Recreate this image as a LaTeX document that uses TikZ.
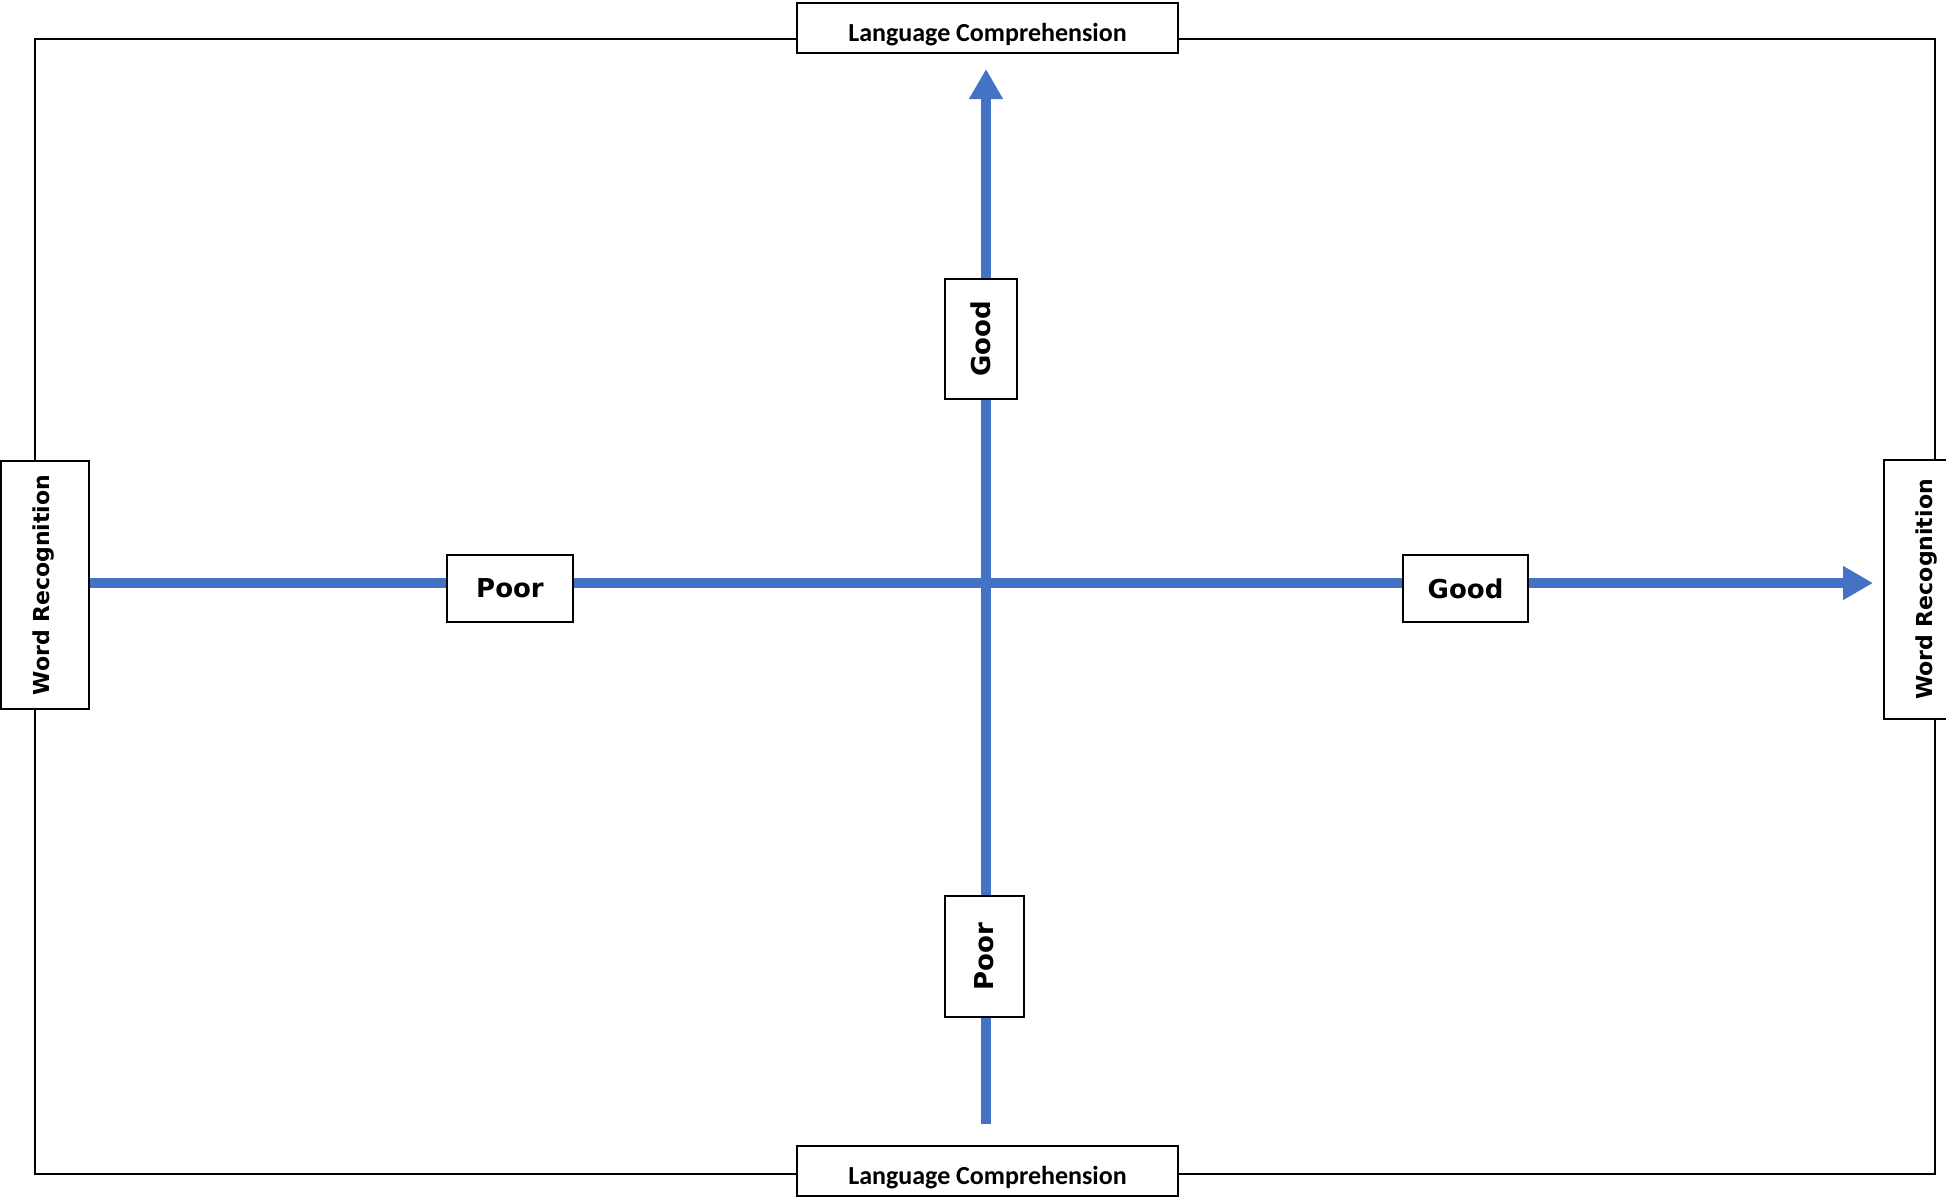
\documentclass[tikz,border=0pt]{standalone}
\usepackage{fontspec}
\setmainfont{DejaVu Sans}
\newfontfamily\lcfont{Carlito}
\usetikzlibrary{arrows.meta}
\definecolor{axisblue}{HTML}{4472C4}
\tikzset{basic/.style={draw,fill=white,line width=0.75pt,inner sep=0pt,
                       text badly centered}}
\tikzset{level/.style={basic,font=\bfseries\fontsize{13}{15}\selectfont}}
\tikzset{wordrec/.style={basic,rotate=90,minimum height=44pt,
                       text height=8.4pt,text depth=4.4pt,
                       font=\bfseries\fontsize{11}{13}\selectfont}}
\tikzset{langcomp/.style={basic,minimum width=190.5pt,minimum height=25pt,
                       text height=13pt,text depth=0pt,
                       font=\lcfont\bfseries\fontsize{13}{15}\selectfont}}
\tikzset{axisline/.style={draw=axisblue,line width=5pt,
                       -{Triangle[length=15pt,width=16pt]}}}

\begin{document}
\begin{tikzpicture}[x=0.5pt,y=-0.5pt]
    \useasboundingbox (0,0) rectangle (1946,1196);

    % frame corners and axis ends
    \coordinate (frameTL) at (35,39);
    \coordinate (frameBR) at (1935,1174);
    \coordinate (hStart) at (89,583);
    \coordinate (hEnd) at (1873,583);
    \coordinate (vStart) at (986,1124);
    \coordinate (vEnd) at (986,69);

    \draw[line width=0.75pt] (frameTL) rectangle (frameBR);

    % axes
    \draw[axisline] (hStart) -- (hEnd);
    \draw[axisline] (vStart) -- (vEnd);

    % language comprehension
    \node[langcomp] (lcTop) at (987.5,28) {Language Comprehension};
    \node[langcomp] (lcBot) at (987.5,1171) {Language Comprehension};

    % word recognition
    \node[wordrec,minimum width=124pt] (wrLeft) at (45,585) {Word Recognition};
    \node[wordrec,minimum width=129.5pt] (wrRight) at (1928,589.5) {Word Recognition};

    % levels on the horizontal axis
    \node[level,minimum width=63pt,minimum height=33.5pt] (poorH) at (510,588.5) {Poor};
    \node[level,minimum width=62.5pt,minimum height=33.5pt] (goodH) at (1465.5,588.5) {Good};

    % levels on the vertical axis
    \node[level,rotate=90,minimum width=60pt,minimum height=36pt] (goodV) at (981,339) {Good};
    \node[level,rotate=90,minimum width=60.5pt,minimum height=39.5pt] (poorV) at (984.5,956.5) {Poor};
\end{tikzpicture}
\end{document}
